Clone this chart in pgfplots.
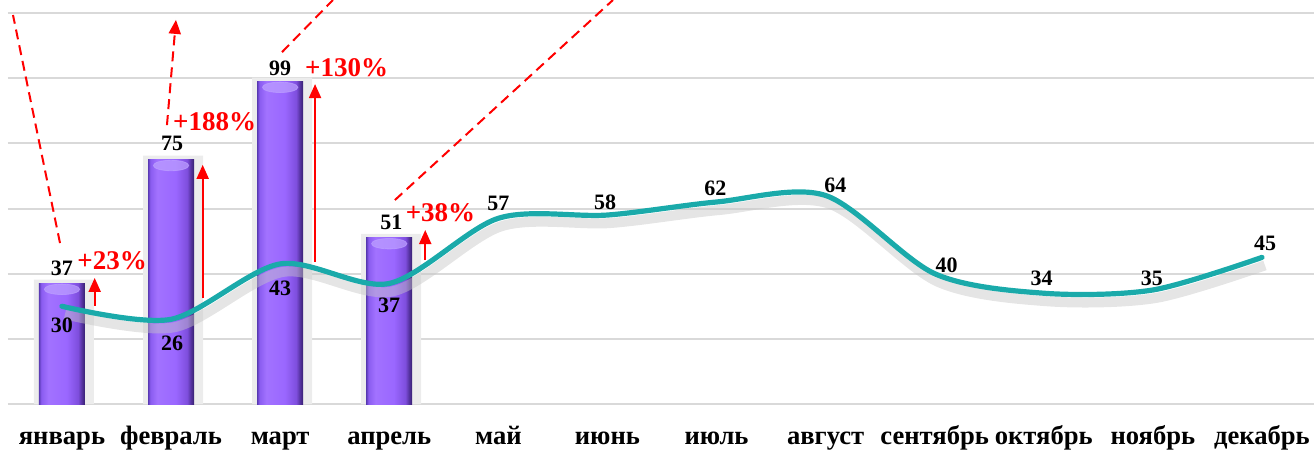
\documentclass[border=0pt]{standalone}
\usepackage{fontspec}
\setmainfont{Liberation Serif}
\usepackage{pgfplots}
\pgfplotsset{compat=1.18}
\usetikzlibrary{arrows.meta}
\definecolor{tealline}{HTML}{1AAAAA}
\definecolor{gridc}{HTML}{D9D9D9}
\definecolor{bA}{HTML}{5A3AB5}
\definecolor{bB}{HTML}{8A5CF0}
\definecolor{bC}{HTML}{A272FF}
\definecolor{bD}{HTML}{9A67FF}
\definecolor{bE}{HTML}{7E4EDD}
\definecolor{bF}{HTML}{55329F}
\definecolor{bG}{HTML}{362070}
\definecolor{capc}{HTML}{BDA0FF}
\pgfdeclarehorizontalshading{barshade}{100bp}{color(0bp)=(bA); color(25bp)=(bA); color(27.5bp)=(bB); color(35bp)=(bC); color(55bp)=(bD); color(67.5bp)=(bE); color(71.5bp)=(bF); color(75bp)=(bG); color(100bp)=(bG)}
\begin{document}
\begin{tikzpicture}
\begin{axis}[
  scale only axis, width=653pt, height=202pt,
  xmin=-0.495, xmax=11.477, ymin=0, ymax=124,
  axis line style={draw=none},
  major tick length=0pt,
  ytick={0,20,...,120}, yticklabels={},
  ymajorgrids, grid style={gridc, line width=1pt},
  xtick={0,...,11},
  xticklabels={январь,февраль,март,апрель,май,июнь,июль,август,сентябрь,октябрь,ноябрь,декабрь},
  xticklabel style={font=\fontsize{13.3}{15}\selectfont\bfseries, anchor=base, yshift=-20pt},
  clip=false,
  barst/.style={ybar, bar width=23pt, bar shift=0pt, draw=none, shading=barshade},
]
% bar halo
\addplot[ybar, bar width=30pt, bar shift=1pt, fill=gray!15, draw=none] coordinates {(0,38.2) (1,76.2) (2,100.2) (3,52.2)};
% bars (one plot per bar so each is shaded on its own)
\addplot[barst] coordinates {(0,37)};
\addplot[barst] coordinates {(1,75)};
\addplot[barst] coordinates {(2,99)};
\addplot[barst] coordinates {(3,51)};
% light caps at the bar tops
\addplot[capc, only marks, mark=*, mark size=2.6pt, mark options={xscale=3.4, fill=capc, draw=capc, opacity=0.7}] coordinates {(0,35.2) (1,73.2) (2,97.2) (3,49.2)};
% red arrows
\draw[red, line width=1pt, -{Triangle[width=6pt,length=7pt]}] (axis cs:0.30,30.1) -- (axis cs:0.30,38.7);
\draw[red, line width=1pt, -{Triangle[width=6pt,length=7pt]}] (axis cs:1.29,32.5) -- (axis cs:1.29,73.4);
\draw[red, line width=1pt, -{Triangle[width=6pt,length=7pt]}] (axis cs:2.32,43.6) -- (axis cs:2.32,98.2);
\draw[red, line width=1pt, -{Triangle[width=6pt,length=7pt]}] (axis cs:3.33,44.2) -- (axis cs:3.33,53.4);
% line shadow
\addplot[smooth, tension=0.5, line width=5pt, gray!45, opacity=0.45, yshift=-4pt, xshift=1.5pt] coordinates {(0,30) (1,26) (2,43) (3,37) (4,57) (5,58) (6,62) (7,64) (8,40) (9,34) (10,35) (11,45)};
% line
\addplot[smooth, tension=0.5, line width=2.6pt, tealline, line cap=round] coordinates {(0,30) (1,26) (2,43) (3,37) (4,57) (5,58) (6,62) (7,64) (8,40) (9,34) (10,35) (11,45)};
% dashed lines
\draw[red, line width=1pt, dash pattern=on 5pt off 3pt] (axis cs:-0.018,49.4) -- (axis cs:-0.449,119.4);
\draw[red, line width=1pt, dash pattern=on 5pt off 3pt, -{Triangle[width=6pt,length=7pt]}] (axis cs:0.9625,85.6) -- (axis cs:1.045,117.9);
\draw[red, line width=1pt, dash pattern=on 5pt off 3pt] (axis cs:2.017,108.0) -- (axis cs:2.484,124);
\draw[red, line width=1pt, dash pattern=on 5pt off 3pt] (axis cs:3.052,62.6) -- (axis cs:5.051,124);
% value labels
\tikzset{vl/.style={font=\fontsize{11}{13}\selectfont\bfseries, inner sep=0pt}, pl/.style={font=\fontsize{13.5}{15}\selectfont\bfseries, text=red, inner sep=0pt}}
\node[vl] at (axis cs:0.0,41.7) {37};
\node[vl] at (axis cs:1.01,80.1) {75};
\node[vl] at (axis cs:2.0,103) {99};
\node[vl] at (axis cs:3.02,55.9) {51};
\node[vl] at (axis cs:0.0,24.2) {30};
\node[vl] at (axis cs:1.01,18.7) {26};
\node[vl] at (axis cs:2.0,35.6) {43};
\node[vl] at (axis cs:3.0,30.4) {37};
\node[vl] at (axis cs:4.0,61.7) {57};
\node[vl] at (axis cs:4.98,62) {58};
\node[vl] at (axis cs:5.99,66.3) {62};
\node[vl] at (axis cs:7.09,67.2) {64};
\node[vl] at (axis cs:8.11,42.7) {40};
\node[vl] at (axis cs:8.98,38.7) {34};
\node[vl] at (axis cs:9.99,38.7) {35};
\node[vl] at (axis cs:11.03,49.4) {45};
\node[pl] at (axis cs:0.46,43.9) {+23\%};
\node[pl] at (axis cs:1.40,86.6) {+188\%};
\node[pl] at (axis cs:2.61,103.1) {+130\%};
\node[pl] at (axis cs:3.47,58.6) {+38\%};
\coordinate (tr) at (axis cs:11.477,124);
\coordinate (bl) at (axis cs:-0.568,0);
\end{axis}
\pgfresetboundingbox
\path (bl) ++(0,-23pt) rectangle (tr);
\end{tikzpicture}
\end{document}
